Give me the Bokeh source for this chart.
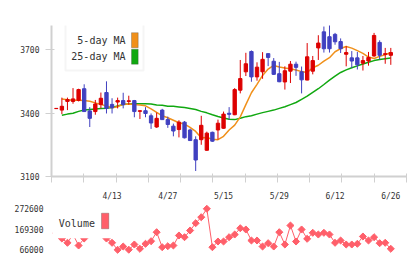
import math
from bokeh.plotting import figure
from bokeh.layouts import column
from bokeh.models import Range1d, FixedTicker, Label, BoxAnnotation, ColumnDataSource
from bokeh.embed import file_html
from bokeh.resources import INLINE

NaN = float("nan")

# ---- data ----
opens = [3421, 3414, 3455, 3455, 3460, 3515, 3410, 3407, 3440, 3497,
         3441, 3452, 3459, 3455, 3459, 3408, 3411, 3387, 3334, 3414,
         3369, 3338, 3322, 3357, 3320, 3274, 3274, 3224, 3309, 3320,
         3328, 3399, 3392, 3508, 3595, 3691, 3571, 3595, 3681, 3645,
         3586, 3547, 3598, 3631, 3595, 3556, 3598, 3708, 3784, 3761,
         3772, 3738, 3678, 3661, 3661, 3636, 3646, 3670, 3734, 3677,
         3673]
highs = [3423, 3473, 3473, 3518, 3515, 3536, 3428, 3462, 3497, 3550,
         3470, 3473, 3496, 3482, 3462, 3413, 3428, 3398, 3402, 3420,
         3383, 3350, 3366, 3362, 3326, 3290, 3387, 3312, 3312, 3369,
         3407, 3428, 3518, 3651, 3685, 3696, 3640, 3688, 3682, 3660,
         3642, 3621, 3646, 3643, 3620, 3731, 3670, 3768, 3809, 3817,
         3779, 3753, 3716, 3693, 3689, 3670, 3689, 3779, 3744, 3708,
         3708]
lows = [3420, 3395, 3414, 3444, 3455, 3406, 3334, 3392, 3422, 3398,
        3398, 3422, 3422, 3440, 3380, 3372, 3380, 3325, 3330, 3368,
        3330, 3290, 3285, 3280, 3268, 3126, 3250, 3222, 3264, 3275,
        3326, 3369, 3390, 3493, 3575, 3548, 3553, 3562, 3622, 3580,
        3546, 3511, 3542, 3576, 3493, 3555, 3583, 3651, 3686, 3686,
        3723, 3684, 3621, 3613, 3606, 3601, 3624, 3666, 3654, 3633,
        3628]
closes = [3422, 3432, 3464, 3467, 3511, 3407, 3375, 3443, 3470, 3422,
          3425, 3459, 3440, 3458, 3407, 3411, 3398, 3353, 3375, 3369,
          3346, 3315, 3357, 3283, 3270, 3178, 3342, 3305, 3267, 3352,
          3395, 3394, 3511, 3563, 3633, 3571, 3617, 3654, 3663, 3583,
          3548, 3600, 3631, 3616, 3557, 3666, 3648, 3731, 3704, 3704,
          3737, 3704, 3686, 3646, 3628, 3648, 3663, 3767, 3673, 3681,
          3686]
ma5 = [NaN, 3466, 3463, 3461, 3460, 3459, 3456, 3448, 3441, 3433,
       3425, 3430, 3442, 3443, 3441, 3438, 3434, 3420, 3403, 3387,
       3378, 3366, 3354, 3348, 3332, 3313, 3283, 3284, 3276, 3274,
       3290, 3320, 3343, 3382, 3440, 3496, 3536, 3578, 3608, 3625,
       3618, 3613, 3609, 3604, 3596, 3592, 3614, 3626, 3646, 3662,
       3690, 3705, 3715, 3707, 3695, 3682, 3665, 3658, 3668, 3676,
       3686]
ma25 = [NaN, 3390, 3395, 3399, 3408, 3414, 3417, 3419, 3422, 3423,
        3426, 3434, 3440, 3443, 3444, 3444, 3444, 3443, 3438, 3437,
        3432, 3432, 3429, 3426, 3422, 3417, 3408, 3401, 3392, 3384,
        3377, 3371, 3369, 3375, 3383, 3387, 3395, 3402, 3408, 3414,
        3422, 3430, 3440, 3450, 3465, 3480, 3498, 3515, 3535, 3556,
        3575, 3592, 3604, 3614, 3623, 3632, 3640, 3648, 3653, 3657,
        3660]
volume = [150000, 122900, 101300, 143100, 87700, 122900, 163300, 148100, 173300, 122900,
          101300, 66000, 82600, 66500, 92700, 71000, 96200, 109300, 154700, 79100,
          84100, 87700, 138100, 129500, 163300, 200000, 230300, 272600, 79100, 107800,
          107800, 129500, 143100, 174800, 168300, 112900, 112900, 82600, 99300, 82600,
          154700, 92700, 188400, 107800, 168300, 121400, 151700, 143100, 151700, 143100,
          101300, 112900, 92700, 92700, 96200, 133000, 112900, 129500, 99300, 101300,
          71000]
date_idx = [10, 20, 30, 40, 50, 60]
date_labels = ["4/13", "4/27", "5/15", "5/29", "6/12", "6/26"]
price_ticks = [3100, 3400, 3700]
vol_ticks = [66000, 169300, 272600]
header_left = "9436 06/26 17:00 updated."
header_right = "(C)https://www.rizumu.net/"
legend_names = ["5-day MA", "25-day MA"]
vol_name = "Volume"

# ---- styles ----
UP = "#dd0000"
DOWN = "#4040c0"
C_MA5 = "#f0901a"
C_MA25 = "#10a810"
C_VOL = "#ff5f6a"
AXIS = "#d0d0d0"
TXT = "#333333"
MONO = "DejaVu Sans Mono"

n = len(closes)
xs = list(range(n))
colors = [UP if c >= o else DOWN for o, c in zip(opens, closes)]
src = ColumnDataSource(dict(
    x=xs, h=highs, l=lows, color=colors,
    top=[max(o, c) for o, c in zip(opens, closes)],
    bot=[min(o, c) for o, c in zip(opens, closes)],
))

X0, X1 = -0.861, 62.816
xr = Range1d(X0, X1)

p = figure(width=420, height=203, x_range=xr, y_range=Range1d(3100, 3814),
           output_backend="svg", toolbar_location=None, title=None,
           min_border_left=51, min_border_right=14, min_border_top=25, min_border_bottom=20)
p.outline_line_color = None
p.xgrid.visible = False
p.ygrid.visible = False

p.line(xs, ma25, color=C_MA25, line_width=1.5)
p.line(xs, ma5, color=C_MA5, line_width=1.5)
p.segment(x0="x", y0="h", x1="x", y1="l", color="color", line_width=1, source=src)
p.vbar(x="x", width=0.6, top="top", bottom="bot", fill_color="color",
       line_color="color", line_width=1, source=src)

grid = [X0 + 0.01 + k * (X1 - X0 - 0.02) / 11 for k in range(12)]
p.xaxis.ticker = FixedTicker(ticks=date_idx, minor_ticks=grid)
p.xaxis.major_label_overrides = {i: s for i, s in zip(date_idx, date_labels)}
p.xaxis.major_tick_in = 0
p.xaxis.major_tick_out = 0
p.xaxis.minor_tick_in = 3
p.xaxis.minor_tick_out = 6
p.xaxis.minor_tick_line_color = AXIS
p.xaxis.major_label_standoff = 9
p.yaxis.ticker = FixedTicker(ticks=price_ticks)
p.yaxis.minor_tick_line_color = None
p.yaxis.major_tick_in = 3
p.yaxis.major_tick_out = 6
p.yaxis.major_label_standoff = 6
for ax in (p.xaxis, p.yaxis):
    ax.axis_line_color = AXIS
    ax.axis_line_width = 2
    ax.major_tick_line_color = AXIS
    ax.major_label_text_font = MONO
    ax.major_label_text_font_size = "8px"
    ax.major_label_text_color = TXT

# header (screen units relative to the frame)
p.add_layout(Label(x=-42.7, y=170, x_units="screen", y_units="screen", text=header_left,
                   text_font=MONO, text_font_size="10px", text_color=TXT, text_baseline="middle"))
p.add_layout(Label(x=357.3, y=170, x_units="screen", y_units="screen", text=header_right,
                   text_font=MONO, text_font_size="10px", text_color=TXT, text_baseline="middle",
                   text_align="right"))
# MA legend
p.add_layout(BoxAnnotation(left=14, right=92, top=153, bottom=106, left_units="screen",
                           right_units="screen", top_units="screen", bottom_units="screen",
                           fill_color="white", fill_alpha=1, line_color="#dddddd", line_width=2))
for k, (name, col) in enumerate(zip(legend_names, [C_MA5, C_MA25])):
    yc = 136.3 - k * 16.5
    p.add_layout(Label(x=74, y=yc, x_units="screen", y_units="screen", text=name,
                       text_font=MONO, text_font_size="10px", text_color=TXT,
                       text_baseline="middle", text_align="right"))
    p.add_layout(BoxAnnotation(left=80, right=86.7, top=yc + 7.5, bottom=yc - 7.5,
                               left_units="screen", right_units="screen", top_units="screen",
                               bottom_units="screen", fill_color=col, fill_alpha=1,
                               line_color="#444444", line_width=1))

# ---- volume panel ----
v = figure(width=420, height=56, x_range=xr, y_range=Range1d(17122, 299307),
           output_backend="svg", toolbar_location=None, title=None, x_axis_location=None,
           min_border_left=51, min_border_right=14, min_border_top=0, min_border_bottom=0)
v.outline_line_color = None
v.xgrid.visible = False
v.ygrid.visible = False
v.line(xs, volume, color=C_VOL, line_width=1)
v.scatter(xs, volume, marker="square", angle=math.pi / 4, size=5, color=C_VOL)
v.yaxis.ticker = FixedTicker(ticks=vol_ticks)
v.yaxis.major_label_overrides = {t: str(t) for t in vol_ticks}
v.yaxis.axis_line_color = None
v.yaxis.major_tick_line_color = None
v.yaxis.minor_tick_line_color = None
v.yaxis.major_tick_out = 0
v.yaxis.major_tick_in = 0
v.yaxis.major_label_standoff = 8
v.yaxis.major_label_text_font = MONO
v.yaxis.major_label_text_font_size = "8px"
v.yaxis.major_label_text_color = TXT

v.add_layout(BoxAnnotation(left=1, right=59, top=51, bottom=21.3, left_units="screen",
                           right_units="screen", top_units="screen", bottom_units="screen",
                           fill_color="white", fill_alpha=1, line_color=None))
v.add_layout(Label(x=7.3, y=36, x_units="screen", y_units="screen", text=vol_name,
                   text_font=MONO, text_font_size="10px", text_color=TXT, text_baseline="middle"))
v.add_layout(BoxAnnotation(left=50, right=57.3, top=46.3, bottom=30.7, left_units="screen",
                           right_units="screen", top_units="screen", bottom_units="screen",
                           fill_color=C_VOL, fill_alpha=1, line_color="#444444", line_width=1))

layout = column(p, v, spacing=0)
open("out.html", "w").write(file_html(layout, INLINE))
